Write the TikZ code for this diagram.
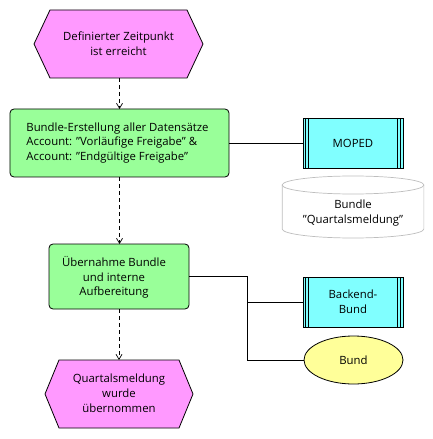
\documentclass[tikz,border=0pt]{standalone}
\usepackage{fontspec}
\setmainfont{Open Sans}
\usetikzlibrary{calc,arrows.meta,shapes.geometric}
\definecolor{evpink}{RGB}{255,153,255}
\definecolor{fngreen}{RGB}{153,255,153}
\definecolor{syscyan}{RGB}{128,255,255}
\definecolor{orgyellow}{RGB}{255,255,153}
\definecolor{dbgray}{RGB}{190,190,190}
\begin{document}
\begin{tikzpicture}[x=1bp,y=-1bp,
  every node/.style={font=\fontsize{11.4}{14.8}\selectfont, inner sep=0pt, outer sep=0pt},
  line/.style={line width=0.8bp, black},
  flow/.style={line, dashed, dash pattern=on 4bp off 3bp, -{Straight Barb[length=5bp,width=6bp,line width=0.7bp]}},
  evbox/.style={minimum width=#1, minimum height=68bp, align=center},
  fnbox/.style={draw, line width=0.8bp, fill=fngreen, rounded corners=4bp},
  sysbox/.style={draw, line width=0.8bp, fill=syscyan, minimum width=100bp, minimum height=50bp, align=center},
]
\useasboundingbox (0,0) rectangle (433,439);

% events (hexagons, outline drawn from the node anchors)
\node[evbox=169bp] (e1) at (118.5,44) {};
\node[evbox=148bp] (e2) at (119,394) {};
\draw[line, fill=evpink] (e1.west) -- ($(e1.north west)+(16,0)$) -- ($(e1.north east)+(-16,0)$) -- (e1.east)
  -- ($(e1.south east)+(-16,0)$) -- ($(e1.south west)+(16,0)$) -- cycle;
\draw[line, fill=evpink] (e2.west) -- ($(e2.north west)+(14,0)$) -- ($(e2.north east)+(-14,0)$) -- (e2.east)
  -- ($(e2.south east)+(-14,0)$) -- ($(e2.south west)+(14,0)$) -- cycle;
\node[align=center] at (e1) {Definierter Zeitpunkt\\ist erreicht};
\node[align=center] at ($(e2)+(0,-1)$) {Quartalsmeldung\\wurde\\übernommen};

% functions
\node[fnbox, minimum width=219bp, minimum height=68bp] (f1) at (119.5,143) {};
\node[align=left] at ($(f1)+(-2,0)$) {Bundle-Erstellung aller Datensätze\\Account: \char"22 Vorläufige Freigabe\char"22\ \&\\Account: \char"22 Endgültige Freigabe\char"22};
\node[fnbox, minimum width=140bp, minimum height=65bp] (f2) at (119,276.5) {};
\node[align=center] at ($(f2)+(-5,1)$) {Übernahme Bundle\\und interne\\Aufbereitung};

% application systems
\node[sysbox] (moped) at (353,143) {MOPED};
\node[sysbox] (backend) at (353,302) {Backend-\\Bund};
\foreach \s in {moped,backend}{
  \draw[line width=0.7bp] ($(\s.north west)+(2.7,0)$) -- ($(\s.south west)+(2.7,0)$);
  \draw[line width=0.7bp] ($(\s.north west)+(5.3,0)$) -- ($(\s.south west)+(5.3,0)$);
  \draw[line width=0.7bp] ($(\s.north east)+(-2.7,0)$) -- ($(\s.south east)+(-2.7,0)$);
  \draw[line width=0.7bp] ($(\s.north east)+(-5.3,0)$) -- ($(\s.south east)+(-5.3,0)$);
}

% organisational unit
\node[ellipse, draw, line width=0.8bp, fill=orgyellow, minimum width=99bp, minimum height=48bp] (bund) at (353.5,360) {Bund};

% information carrier (cylinder)
\node[minimum width=141.7bp, minimum height=62bp] (db) at (353,207) {};
\draw[dbgray, line width=0.7bp, fill=white]
  ($(db.north west)+(0,9)$) -- ($(db.south west)+(0,-9)$)
  arc[start angle=180, end angle=360, x radius=70.85bp, y radius=9bp]
  -- ($(db.north east)+(0,9)$);
\draw[dbgray, line width=0.7bp] ($(db.north)+(0,9)$) ellipse[x radius=70.85bp, y radius=9bp];
\node[align=center] at ($(db.center)+(0,6)$) {Bundle\\\char"22 Quartalsmeldung\char"22};

% control flow
\draw[flow] (e1.south -| f1.north) -- (f1.north);
\draw[flow] (f1.south) -- (f1.south |- f2.north);
\draw[flow] (f2.south) -- (f2.south |- e2.north);

% assignments
\coordinate (j) at (247,302);
\draw[line] (f1.east) -- (moped.west);
\draw[line] (f2.east) -- (f2.east -| j) -- (j |- bund.west) -- (bund.west);
\draw[line] (j |- backend.west) -- (backend.west);
\end{tikzpicture}
\end{document}
